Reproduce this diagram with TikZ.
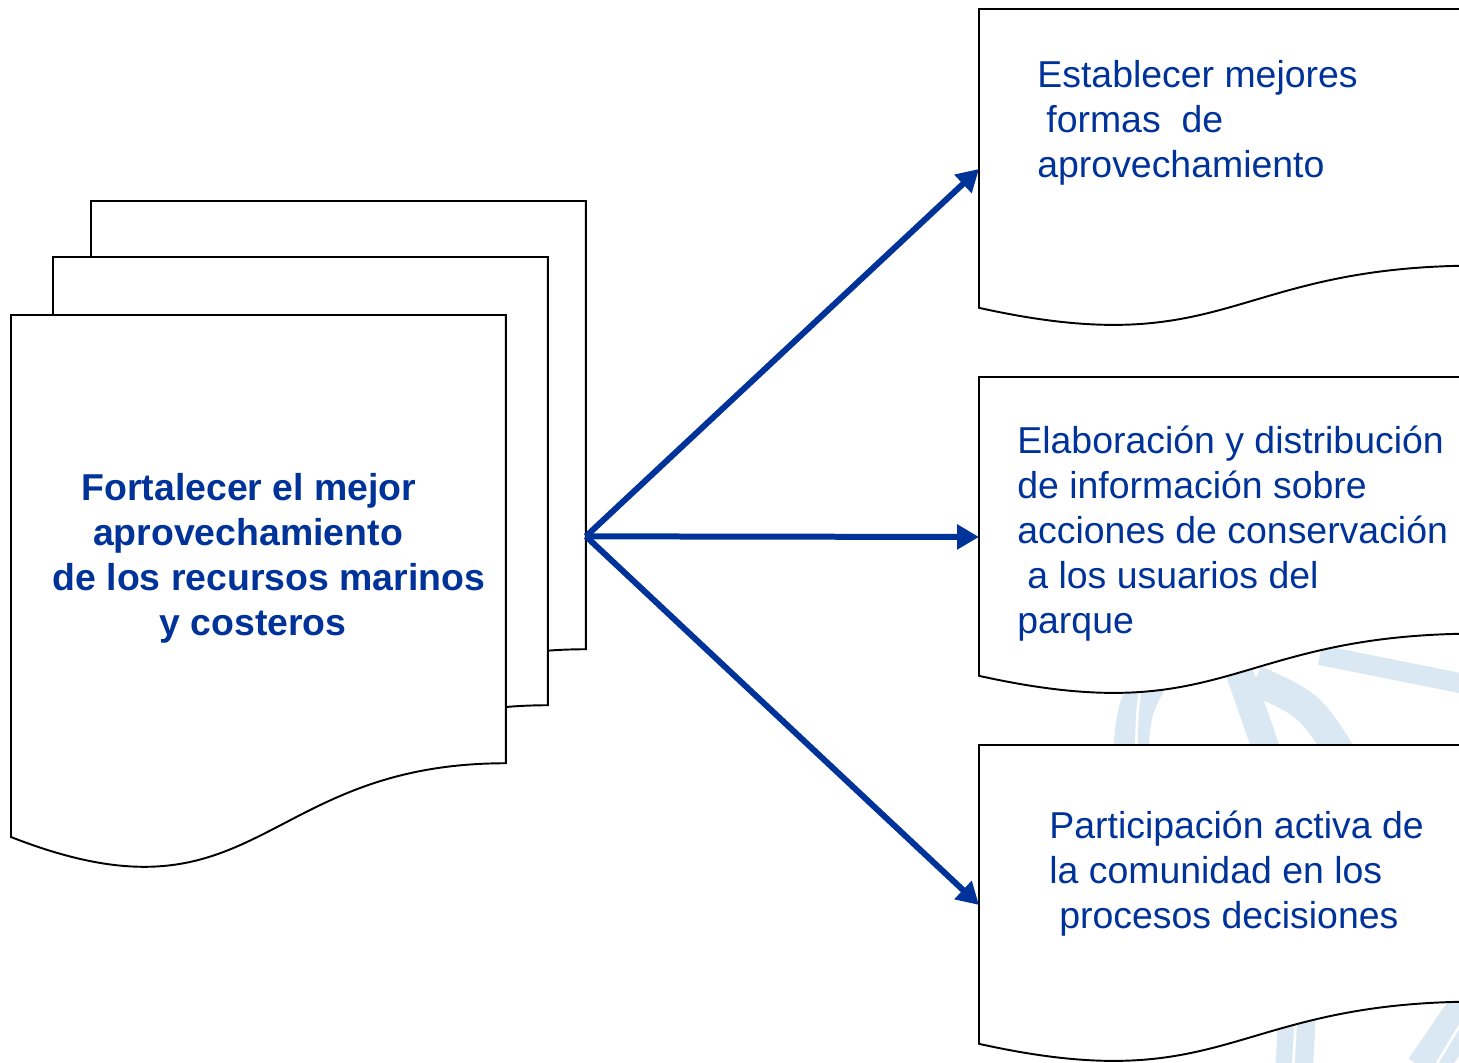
\documentclass[tikz,border=0pt]{standalone}
\usepackage{fontspec}
\setmainfont{Liberation Sans}
\usetikzlibrary{calc,arrows.meta}
\definecolor{navy}{HTML}{003399}
\definecolor{paleblue}{HTML}{DAE8F4}
\tikzset{
docbox/.style={rectangle, draw=none, inner sep=0pt, outer sep=0pt, anchor=north west},
leftdoc/.style={docbox, minimum width=9.9cm, minimum height=11.18cm},
rightdoc/.style={docbox, minimum width=10cm, minimum height=6.4cm},
docline/.style={draw=black, fill=white, line width=1.1pt},
goaltext/.style={align=center, text=navy, font=\fontsize{21.3}{25.6}\selectfont\bfseries, inner sep=0pt},
actiontext/.style={align=left, text=navy, font=\fontsize{21.3}{25.6}\selectfont, inner sep=0pt, anchor=north west},
bluearrow/.style={draw=navy, line width=0.12cm, -{Triangle[length=0.44cm, width=0.48cm]}},
bgstroke/.style={draw=paleblue, line width=0.6cm},
}
% document shape with wavy bottom, drawn on a docbox node
\newcommand{\docoutline}[1]{%
  \draw[docline] (#1.north west) -- (#1.north east)
    -- ($(#1.south east)!0.198!(#1.north east)$)
    .. controls ($(#1.south)!0.198!(#1.north)$) and ($(#1.south)!-0.1075!(#1.north)$)
    .. ($(#1.south west)!0.066!(#1.north west)$) -- cycle;}

\begin{document}
\begin{tikzpicture}[x=0.02cm, y=-0.02cm]
    \useasboundingbox (0,0) rectangle (1459,1062);
    \clip (0,0) rectangle (1459,1062);
    % pale strokes in the background
    \draw[bgstroke, line width=0.7cm] (1150,680) .. controls (1134,710) .. (1130,760);
    \draw[white, line width=1.5pt] (1140,690) .. controls (1137,715) .. (1136,760);
    \draw[bgstroke, line width=0.55cm] (1235,660) -- (1270,760);
    \draw[bgstroke] (1255,680) .. controls (1310,705) .. (1345,760);
    \draw[bgstroke, line width=0.4cm] (1320,655) -- (1470,685);
    \draw[bgstroke, line width=0.75cm] (1298,1000) -- (1294,1070);
    \draw[white, line width=1.5pt] (1297,1000) -- (1293,1070);
    \draw[bgstroke, line width=0.8cm] (1480,990) -- (1425,1070);
    \draw[white, line width=1.5pt] (1478,995) -- (1433,1070);
    % stacked documents on the left
    \node[leftdoc] at (91,201) (back) {};
    \node[leftdoc] at (53,257) (middle) {};
    \node[leftdoc] at (11,315) (front) {};
    \docoutline{back}
    \docoutline{middle}
    \docoutline{front}
    \node[goaltext] at (258,558) (goal) {Fortalecer el mejor\rule{0.36cm}{0pt}\\aprovechamiento\rule{0.4cm}{0pt}\\\rule{0.44cm}{0pt}de los recursos marinos\\y costeros\rule{0.2cm}{0pt}};
    % documents on the right
    \node[rightdoc] at (979,9) (forms) {};
    \node[rightdoc] at (979,377) (info) {};
    \node[rightdoc] at (979,745) (community) {};
    \docoutline{forms}
    \docoutline{info}
    \docoutline{community}
    \node[actiontext] at (1037,60) (formstext) {Establecer mejores\\\hspace*{0.18cm}formas\ \ de\\aprovechamiento};
    \node[actiontext] at (1017,426) (infotext) {Elaboración y distribución\\de información sobre\\acciones de conservación\\\hspace*{0.2cm}a los usuarios del\\parque};
    \node[actiontext] at (1049,811) (communitytext) {Participación activa de\\la comunidad en los\\\hspace*{0.2cm}procesos decisiones};
    % arrows
    \coordinate (hub) at ($(back.north east)!0.6!(back.south east)$);
    \draw[bluearrow] (hub) -- (forms.west);
    \draw[bluearrow] (hub) -- (info.west);
    \draw[bluearrow] (hub) -- (community.west);
\end{tikzpicture}
\end{document}
